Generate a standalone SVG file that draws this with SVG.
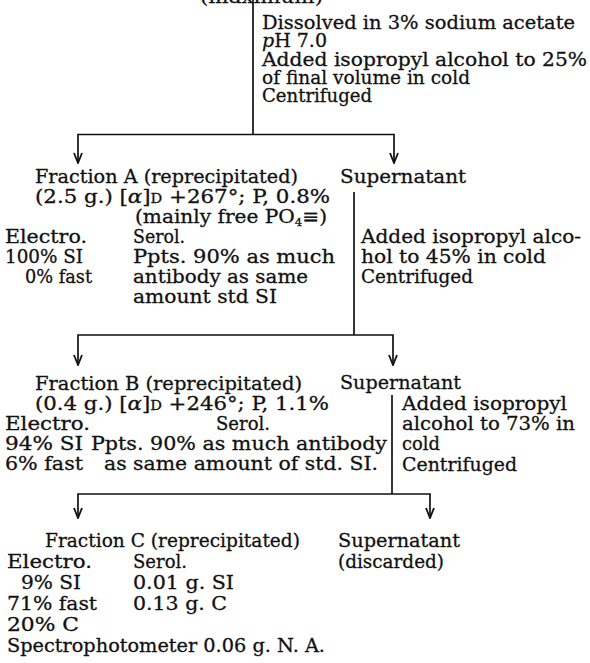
<svg xmlns="http://www.w3.org/2000/svg" width="590" height="663" viewBox="0 0 590 663">
<defs>
<style>
text{font-family:"DejaVu Serif","Liberation Serif",serif;font-size:19px;fill:#111;stroke:#111;stroke-width:0.3;}
.i{font-style:italic;}
.sc{font-size:13px;}
.sub{font-size:11px;}
.ln{fill:none;stroke:#111;stroke-width:1.7;}
</style>
<marker id="arr" viewBox="0 0 12 10" refX="11" refY="5" markerWidth="12" markerHeight="10" markerUnits="userSpaceOnUse" orient="auto">
<path d="M1,1 L11,5 L1,9" fill="none" stroke="#111" stroke-width="1.8"/>
</marker>
</defs>
<rect width="590" height="663" fill="#fff"/>
<g id="connectors">
<path class="ln" d="M253,0 V134.5"/>
<path class="ln" d="M253,134.5 H78 V163" marker-end="url(#arr)"/>
<path class="ln" d="M253,134.5 H394 V163" marker-end="url(#arr)"/>
<path class="ln" d="M354,192 V335"/>
<path class="ln" d="M354,335 H78 V365" marker-end="url(#arr)"/>
<path class="ln" d="M354,335 H393 V365" marker-end="url(#arr)"/>
<path class="ln" d="M392,395 V494"/>
<path class="ln" d="M392,494 H78 V518" marker-end="url(#arr)"/>
<path class="ln" d="M392,494 H430 V518" marker-end="url(#arr)"/>
</g>
<g id="start">
<text x="200" y="3" textLength="123" lengthAdjust="spacingAndGlyphs">(maximum)</text>
</g>
<g id="step1">
<text x="262" y="29" textLength="313" lengthAdjust="spacingAndGlyphs">Dissolved in 3% sodium acetate</text>
<text x="262" y="47" textLength="65" lengthAdjust="spacingAndGlyphs"><tspan class="i">p</tspan>H 7.0</text>
<text x="262" y="66" textLength="325" lengthAdjust="spacingAndGlyphs">Added isopropyl alcohol to 25%</text>
<text x="262" y="84" textLength="208" lengthAdjust="spacingAndGlyphs">of final volume in cold</text>
<text x="262" y="102" textLength="110" lengthAdjust="spacingAndGlyphs">Centrifuged</text>
</g>
<g id="fractionA">
<text x="35" y="183" textLength="263" lengthAdjust="spacingAndGlyphs">Fraction A (reprecipitated)</text>
<text x="35" y="203" textLength="295" lengthAdjust="spacingAndGlyphs">(2.5 g.) [<tspan class="i">α</tspan>]<tspan class="sc">D</tspan> +267°; P, 0.8%</text>
<text x="135" y="223" textLength="192" lengthAdjust="spacingAndGlyphs">(mainly free PO<tspan class="sub" dy="3">4</tspan><tspan dy="-3">≡)</tspan></text>
<text x="5" y="243" textLength="82" lengthAdjust="spacingAndGlyphs">Electro.</text>
<text x="133" y="243" textLength="52" lengthAdjust="spacingAndGlyphs">Serol.</text>
<text x="5" y="263" textLength="78" lengthAdjust="spacingAndGlyphs">100% SI</text>
<text x="133" y="263" textLength="202" lengthAdjust="spacingAndGlyphs">Ppts. 90% as much</text>
<text x="25" y="283" textLength="67" lengthAdjust="spacingAndGlyphs">0% fast</text>
<text x="133" y="283" textLength="175" lengthAdjust="spacingAndGlyphs">antibody as same</text>
<text x="133" y="303" textLength="144" lengthAdjust="spacingAndGlyphs">amount std SI</text>
</g>
<g id="supernatantA">
<text x="340" y="183" textLength="126" lengthAdjust="spacingAndGlyphs">Supernatant</text>
<text x="361" y="243" textLength="220" lengthAdjust="spacingAndGlyphs">Added isopropyl alco-</text>
<text x="361" y="263" textLength="185" lengthAdjust="spacingAndGlyphs">hol to 45% in cold</text>
<text x="361" y="283" textLength="112" lengthAdjust="spacingAndGlyphs">Centrifuged</text>
</g>
<g id="fractionB">
<text x="35" y="390" textLength="267" lengthAdjust="spacingAndGlyphs">Fraction B (reprecipitated)</text>
<text x="35" y="410" textLength="294" lengthAdjust="spacingAndGlyphs">(0.4 g.) [<tspan class="i">α</tspan>]<tspan class="sc">D</tspan> +246°; P, 1.1%</text>
<text x="5" y="430" textLength="85" lengthAdjust="spacingAndGlyphs">Electro.</text>
<text x="216" y="430" textLength="54" lengthAdjust="spacingAndGlyphs">Serol.</text>
<text x="5" y="450" textLength="78" lengthAdjust="spacingAndGlyphs">94% SI</text>
<text x="91" y="450" textLength="296" lengthAdjust="spacingAndGlyphs">Ppts. 90% as much antibody</text>
<text x="5" y="470" textLength="78" lengthAdjust="spacingAndGlyphs">6% fast</text>
<text x="104" y="470" textLength="274" lengthAdjust="spacingAndGlyphs">as same amount of std. SI.</text>
</g>
<g id="supernatantB">
<text x="340" y="389" textLength="121" lengthAdjust="spacingAndGlyphs">Supernatant</text>
<text x="402" y="410" textLength="165" lengthAdjust="spacingAndGlyphs">Added isopropyl</text>
<text x="402" y="430" textLength="173" lengthAdjust="spacingAndGlyphs">alcohol to 73% in</text>
<text x="402" y="450" textLength="38" lengthAdjust="spacingAndGlyphs">cold</text>
<text x="402" y="471" textLength="115" lengthAdjust="spacingAndGlyphs">Centrifuged</text>
</g>
<g id="fractionC">
<text x="45" y="547" textLength="255" lengthAdjust="spacingAndGlyphs">Fraction C (reprecipitated)</text>
<text x="7" y="568" textLength="85" lengthAdjust="spacingAndGlyphs">Electro.</text>
<text x="133" y="568" textLength="54" lengthAdjust="spacingAndGlyphs">Serol.</text>
<text x="21" y="589" textLength="60" lengthAdjust="spacingAndGlyphs">9% SI</text>
<text x="133" y="589" textLength="101" lengthAdjust="spacingAndGlyphs">0.01 g. SI</text>
<text x="7" y="610" textLength="90" lengthAdjust="spacingAndGlyphs">71% fast</text>
<text x="133" y="610" textLength="94" lengthAdjust="spacingAndGlyphs">0.13 g. C</text>
<text x="7" y="631" textLength="72" lengthAdjust="spacingAndGlyphs">20% C</text>
<text x="7" y="652" textLength="318" lengthAdjust="spacingAndGlyphs">Spectrophotometer 0.06 g. N. A.</text>
</g>
<g id="supernatantC">
<text x="338" y="547" textLength="122" lengthAdjust="spacingAndGlyphs">Supernatant</text>
<text x="338" y="568" textLength="106" lengthAdjust="spacingAndGlyphs">(discarded)</text>
</g>
</svg>
